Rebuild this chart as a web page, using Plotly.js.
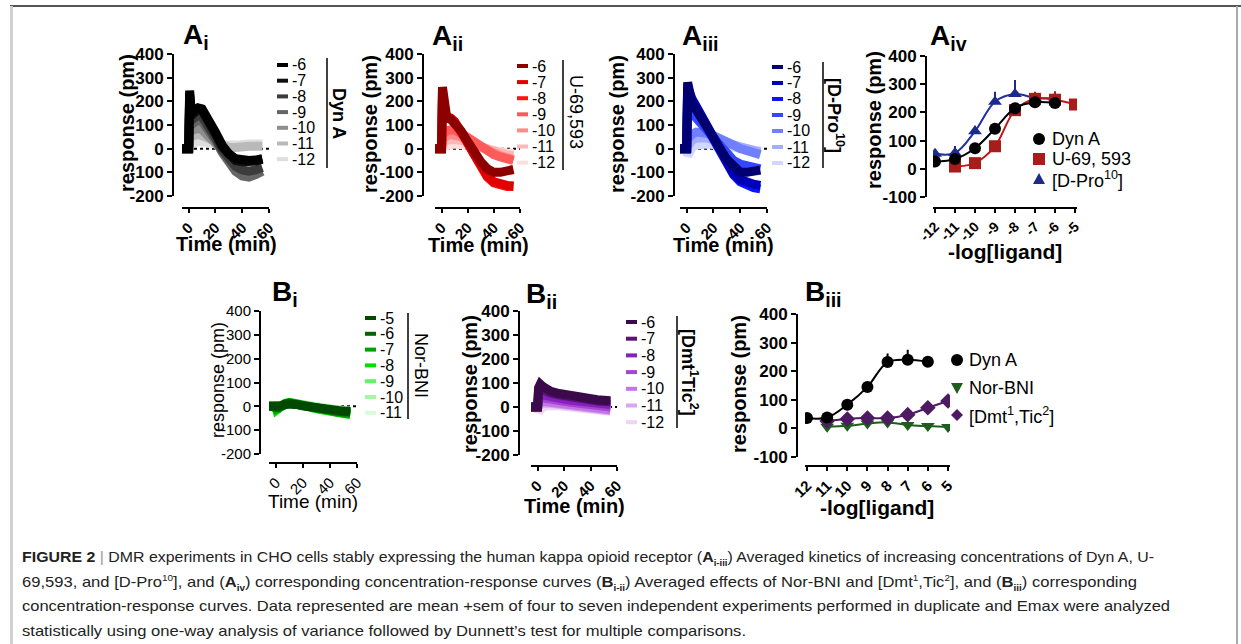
<!DOCTYPE html>
<html><head><meta charset="utf-8">
<script src="https://cdn.plot.ly/plotly-3.0.1.min.js"></script>
<style>
html,body{margin:0;padding:0;background:#fff;}
#wrap{position:relative;width:1241px;height:644px;overflow:hidden;background:#fff;}
#chart{position:absolute;left:0;top:0;width:1241px;height:644px;}
.fr{position:absolute;}
#cap{position:absolute;left:22px;top:545px;font-family:"Liberation Sans",Arial,sans-serif;font-size:15px;color:#222;}
.ln{white-space:nowrap;transform-origin:0 50%;height:24.5px;line-height:24.5px;display:block;width:max-content;}
.ln sup,.ln sub{font-size:9px;line-height:0;}
.bar{color:#999;}
</style></head>
<body><div id="wrap">
<div id="chart"></div>
<div class="fr" style="left:10px;top:5px;width:1231px;height:2px;background:#555;"></div>
<div class="fr" style="left:10px;top:6px;width:3px;height:640px;background:#d0d0d0;"></div>
<div class="fr" style="left:1236px;top:6px;width:2px;height:640px;background:#aaa;"></div>
<div id="cap">
<div class="ln" data-w="1132"><b>FIGURE 2</b> <span class="bar">|</span> DMR experiments in CHO cells stably expressing the human kappa opioid receptor (<b>A<sub>i-iii</sub></b>) Averaged kinetics of increasing concentrations of Dyn A, U-</div>
<div class="ln" data-w="1115">69,593, and [D-Pro<sup>10</sup>], and (<b>A<sub>iv</sub></b>) corresponding concentration-response curves (<b>B<sub>i-ii</sub></b>) Averaged effects of Nor-BNI and [Dmt<sup>1</sup>,Tic<sup>2</sup>], and (<b>B<sub>iii</sub></b>) corresponding</div>
<div class="ln" data-w="1148">concentration-response curves. Data represented are mean +sem of four to seven independent experiments performed in duplicate and Emax were analyzed</div>
<div class="ln" data-w="724">statistically using one-way analysis of variance followed by Dunnett’s test for multiple comparisons.</div>
</div>
</div>
<script>
// ---------------- DATA ----------------
const TIME = [-5, -1, 0, 0.7, 2, 4, 7, 10, 15, 20, 25, 30, 35, 40, 45, 50, 55];
const KIN_TICKS = [0, 20, 40, 60];

// Ai : Dyn A kinetics (log M)
const DYNA_LOGS = ['-6', '-7', '-8', '-9', '-10', '-11', '-12'];
const dynA_6  = [0, 0, 0, 245, 150, 160, 172, 168, 125, 70, 15, -22, -42, -50, -50, -48, -42];
const dynA_7  = [0, 0, 0, 230, 140, 150, 165, 160, 118, 62, 8, -28, -50, -55, -55, -52, -45];
const dynA_8  = [0, 0, 0, 200, 120, 130, 140, 135, 95, 45, -5, -45, -75, -90, -95, -90, -80];
const dynA_9  = [0, 0, 0, 170, 100, 110, 120, 115, 80, 35, -15, -60, -95, -115, -120, -110, -95];
const dynA_10 = [0, 0, 0, 120, 75, 80, 85, 80, 55, 25, -5, -35, -50, -55, -55, -50, -45];
const dynA_11 = [0, 0, 0, 80, 50, 55, 60, 55, 40, 25, 10, 5, 5, 10, 10, 10, 10];
const dynA_12 = [0, 0, 0, 45, 30, 25, 30, 30, 25, 20, 15, 15, 15, 20, 20, 20, 20];

// Aii : U-69,593 kinetics
const U69_LOGS = ['-6', '-7', '-8', '-9', '-10', '-11', '-12'];
const u69_6  = [0, 0, 0, 260, 160, 130, 125, 110, 75, 30, -15, -55, -85, -100, -100, -95, -88];
const u69_7  = [0, 0, 0, 230, 150, 135, 130, 115, 75, 25, -25, -75, -115, -140, -150, -155, -158];
const u69_8  = [0, 0, 0, 210, 145, 130, 125, 110, 70, 20, -30, -80, -120, -145, -155, -160, -160];
const u69_9  = [0, 0, 0, 60, 70, 75, 80, 78, 65, 45, 25, 5, -10, -25, -35, -45, -50];
const u69_10 = [0, 0, 0, 40, 50, 55, 60, 58, 50, 35, 20, 5, -8, -20, -30, -38, -45];
const u69_11 = [0, 0, 0, 20, 30, 35, 40, 40, 35, 25, 15, 5, -5, -12, -20, -25, -30];
const u69_12 = [0, 0, 0, 5, 10, 15, 20, 20, 18, 12, 8, 0, -5, -10, -15, -18, -20];

// Aiii : [D-Pro10] kinetics
const DPRO_LOGS = ['-6', '-7', '-8', '-9', '-10', '-11', '-12'];
const dpro_6  = [0, 0, 0, 280, 210, 190, 165, 140, 95, 45, 0, -45, -80, -100, -100, -95, -90];
const dpro_7  = [0, 0, 0, 260, 230, 210, 180, 150, 100, 45, -10, -60, -105, -130, -145, -150, -155];
const dpro_8  = [0, 0, 0, 250, 220, 200, 170, 145, 95, 40, -15, -65, -110, -140, -155, -165, -170];
const dpro_9  = [0, 0, 0, 200, 160, 150, 130, 110, 75, 40, 5, -25, -50, -65, -75, -80, -85];
const dpro_10 = [0, 0, 0, 40, 50, 60, 70, 70, 65, 55, 45, 30, 15, 0, -10, -20, -25];
const dpro_11 = [0, 0, 0, 10, 25, 35, 45, 48, 45, 38, 30, 20, 10, 0, -5, -10, -15];
const dpro_12 = [0, 0, 0, -30, -10, 5, 15, 20, 20, 18, 15, 10, 5, 0, -5, -8, -10];

// Bi : Nor-BNI kinetics
const NOR_LOGS = ['-5', '-6', '-7', '-8', '-9', '-10', '-11'];
const nor_5  = [0, 0, 0, -5, -3, 3, 10, 12, 8, 2, -3, -8, -12, -15, -18, -20, -22];
const nor_6  = [0, 0, 0, -8, -5, 2, 10, 13, 8, 2, -4, -9, -13, -17, -20, -23, -25];
const nor_7  = [0, 0, 0, -10, -5, 3, 12, 15, 10, 3, -4, -10, -15, -20, -24, -28, -32];
const nor_8  = [0, 0, 0, -15, -8, 2, 12, 16, 12, 4, -3, -10, -16, -22, -27, -32, -35];
const nor_9  = [0, 0, 0, -18, -8, 3, 13, 17, 12, 5, -2, -8, -14, -20, -24, -28, -30];
const nor_10 = [0, 0, 0, -10, -5, 2, 10, 14, 10, 5, 0, -5, -10, -14, -18, -20, -22];
const nor_11 = [0, 0, 0, -8, -3, 3, 10, 12, 10, 5, 0, -4, -8, -12, -15, -18, -20];

// Bii : [Dmt1,Tic2] kinetics
const DMT_LOGS = ['-6', '-7', '-8', '-9', '-10', '-11', '-12'];
const dmt_6  = [0, 0, 0, 80, 95, 85, 70, 65, 58, 52, 46, 40, 35, 32, 30, 28, 26];
const dmt_7  = [0, 0, 0, 65, 80, 72, 62, 58, 52, 46, 40, 35, 30, 27, 25, 23, 22];
const dmt_8  = [0, 0, 0, 45, 55, 50, 45, 42, 38, 33, 28, 24, 20, 17, 14, 12, 10];
const dmt_9  = [0, 0, 0, 30, 40, 38, 34, 32, 28, 24, 20, 16, 12, 8, 5, 2, 0];
const dmt_10 = [0, 0, 0, 15, 25, 25, 22, 20, 17, 13, 9, 5, 1, -3, -6, -9, -12];
const dmt_11 = [0, 0, 0, 0, 15, 18, 17, 15, 12, 8, 4, 0, -4, -8, -11, -14, -16];
const dmt_12 = [0, 0, 0, -20, -10, 0, 5, 8, 6, 3, 0, -3, -7, -10, -13, -16, -18];

// Aiv : concentration-response (x = log[ligand])
const AIV_TICKS = [-12, -11, -10, -9, -8, -7, -6, -5];
const aiv_dynA_x = [-12, -11, -10, -9, -8, -7, -6];
const aiv_dynA_y = [26, 35, 73, 142, 215, 236, 233];
const aiv_dynA_e = [8, 10, 10, 12, 15, 15, 15];
const aiv_u69_x = [-11, -10, -9, -8, -7, -6, -5];
const aiv_u69_y = [8, 20, 80, 208, 248, 245, 228];
const aiv_u69_e = [5, 5, 10, 15, 25, 30, 8];
const aiv_dpro_x = [-12, -11, -10, -9, -8, -7, -6];
const aiv_dpro_y = [53, 56, 133, 238, 265, 252, 250];
const aiv_dpro_e = [15, 25, 20, 35, 50, 20, 20];

// Biii : concentration-response (x = -log[ligand])
const BIII_TICKS = [12, 11, 10, 9, 8, 7, 6, 5];
const biii_dynA_x = [12, 11, 10, 9, 8, 7, 6];
const biii_dynA_y = [36, 38, 83, 145, 232, 240, 233];
const biii_dynA_e = [8, 8, 10, 15, 30, 35, 15];
const biii_nor_x = [11, 10, 9, 8, 7, 6, 5];
const biii_nor_y = [6, 9, 17, 21, 12, 8, 5];
const biii_nor_e = [3, 3, 3, 3, 3, 3, 3];
const biii_dmt_x = [11, 10, 9, 8, 7, 6, 5];
const biii_dmt_y = [26, 33, 36, 36, 48, 72, 96];
const biii_dmt_e = [5, 5, 5, 5, 8, 8, 10];

// colours
const GREYS  = ['#000000', '#101010', '#3c3c3c', '#666666', '#8e8e8e', '#b9b9b9', '#dedede'];
const REDS   = ['#8c0000', '#e00000', '#ff1414', '#ff5a5a', '#ff8a8a', '#ffb8b8', '#ffdede'];
const BLUES  = ['#000070', '#0000b8', '#0a14ff', '#3347ff', '#6f7fff', '#a3adff', '#d2d7ff'];
const GREENS = ['#004a00', '#006400', '#00a000', '#00e000', '#66f266', '#a8f5a8', '#d8fbd8'];
const PURPS  = ['#3a0a4a', '#5a1278', '#8a1fc0', '#a545d2', '#c276e2', '#d9a6ee', '#eed4f7'];

// ---------------- BUILD ----------------
const F = 'Liberation Sans, Arial, sans-serif';
const W = 1241, H = 644;
const X = v => v / W, Y = v => 1 - v / H;
const traces = [], shapes = [], ann = [];

function kinetic(n, series, colors) {
  const xa = 'x' + n, ya = 'y' + n;
  traces.push({x: [-5, 60], y: [0, 0], xaxis: xa, yaxis: ya, mode: 'lines',
    line: {color: '#000', width: 2, dash: 'dot'}, hoverinfo: 'skip', showlegend: false});
  for (let i = series.length - 1; i >= 0; i--) {
    traces.push({x: TIME, y: series[i], xaxis: xa, yaxis: ya, mode: 'lines',
      line: {color: colors[i], width: 9}, showlegend: false});
  }
}
kinetic(1, [dynA_6, dynA_7, dynA_8, dynA_9, dynA_10, dynA_11, dynA_12], GREYS);
kinetic(2, [u69_6, u69_7, u69_8, u69_9, u69_10, u69_11, u69_12], REDS);
kinetic(3, [dpro_6, dpro_7, dpro_8, dpro_9, dpro_10, dpro_11, dpro_12], BLUES);
kinetic(5, [nor_5, nor_6, nor_7, nor_8, nor_9, nor_10, nor_11], GREENS);
kinetic(6, [dmt_6, dmt_7, dmt_8, dmt_9, dmt_10, dmt_11, dmt_12], PURPS);

function crc(n, xs, ys, es, mcol, lcol, sym) {
  const xa = 'x' + n, ya = 'y' + n;
  traces.push({x: xs, y: ys, xaxis: xa, yaxis: ya, mode: 'lines',
    line: {color: lcol, width: 2, shape: 'spline', smoothing: 1}, showlegend: false});
  traces.push({x: xs, y: ys, xaxis: xa, yaxis: ya, mode: 'markers',
    marker: {symbol: sym, size: 12, color: mcol},
    error_y: {type: 'data', symmetric: false, array: es, arrayminus: es.map(() => 0),
      color: mcol, thickness: 2, width: 0}, showlegend: false});
}
crc(4, aiv_dpro_x, aiv_dpro_y, aiv_dpro_e, '#1c2a8c', '#1f2fa0', 'triangle-up');
crc(4, aiv_u69_x, aiv_u69_y, aiv_u69_e, '#a81c1c', '#c01818', 'square');
crc(4, aiv_dynA_x, aiv_dynA_y, aiv_dynA_e, '#000', '#000', 'circle');
crc(7, biii_nor_x, biii_nor_y, biii_nor_e, '#1d5e1d', '#1d5e1d', 'triangle-down');
crc(7, biii_dmt_x, biii_dmt_y, biii_dmt_e, '#4e1a63', '#4e1a63', 'diamond');
crc(7, biii_dynA_x, biii_dynA_y, biii_dynA_e, '#000', '#000', 'circle');

// axes helpers (geometry in px of the 1241x644 canvas)
function yax(top, bot, lo, hi, xpos, bold, fs) {
  const vals = []; for (let v = lo; v <= hi; v += 100) vals.push(v);
  return {domain: [Y(bot), Y(top)], range: [lo, hi], anchor: 'free', position: X(xpos),
    showline: true, linewidth: 2, linecolor: '#000', ticks: 'outside', ticklen: 5, tickwidth: 2,
    tickcolor: '#000', tickvals: vals, ticktext: vals.map(String), showgrid: false, zeroline: false,
    tickfont: {family: F, size: fs, weight: bold ? 'bold' : 'normal', color: '#000'}, fixedrange: true};
}
function xax(left, right, range, ypos, vals, bold, fs) {
  return {domain: [X(left), X(right)], range: range, anchor: 'free', position: Y(ypos),
    showline: true, linewidth: 2, linecolor: '#000', ticks: 'outside', ticklen: 4, tickwidth: 2,
    tickcolor: '#000', tickvals: vals, ticktext: vals.map(String), tickangle: -45,
    showgrid: false, zeroline: false,
    tickfont: {family: F, size: fs, weight: bold ? 'bold' : 'normal', color: '#000'}, fixedrange: true};
}

const layout = {
  width: W, height: H, margin: {l: 0, r: 0, t: 0, b: 0},
  paper_bgcolor: 'rgba(0,0,0,0)', plot_bgcolor: 'rgba(0,0,0,0)', showlegend: false,
  xaxis:  xax(182, 269, [-5, 60], 208, KIN_TICKS, true, 15),
  yaxis:  yax(54, 196, -200, 400, 173, true, 17),
  xaxis2: xax(435, 520, [-5, 60], 208, KIN_TICKS, true, 15),
  yaxis2: yax(54, 196, -200, 400, 423, true, 17),
  xaxis3: xax(680, 767, [-5, 60], 208, KIN_TICKS, true, 15),
  yaxis3: yax(54, 196, -200, 400, 674, true, 17),
  xaxis4: xax(933, 1077, [-12.1, -4.9], 208, AIV_TICKS, true, 14),
  yaxis4: yax(56, 197, -100, 400, 926, true, 17),
  xaxis5: xax(269, 357, [-5, 60], 463, KIN_TICKS, false, 15),
  yaxis5: yax(311, 454, -200, 400, 260, false, 15),
  xaxis6: xax(531, 617, [-5, 60], 466, KIN_TICKS, true, 15),
  yaxis6: yax(311, 455, -200, 400, 519, true, 17),
  xaxis7: xax(805, 950, [12.1, 4.9], 466, BIII_TICKS, true, 15),
  yaxis7: yax(314, 457, -100, 400, 797, true, 17),
  shapes: shapes, annotations: ann
};

function txt(text, x, y, size, bold, opts) {
  ann.push(Object.assign({text: text, x: X(x), y: Y(y), xref: 'paper', yref: 'paper',
    showarrow: false, xanchor: 'center', yanchor: 'middle',
    font: {family: F, size: size, color: '#000', weight: bold ? 'bold' : 'normal'}}, opts || {}));
}
// panel titles
[['A<sub>i</sub>', 181, 37], ['A<sub>ii</sub>', 430, 38], ['A<sub>iii</sub>', 680, 38], ['A<sub>iv</sub>', 928, 38],
 ['B<sub>i</sub>', 270, 293], ['B<sub>ii</sub>', 524, 295], ['B<sub>iii</sub>', 803, 293]]
  .forEach(p => txt(p[0], p[1], p[2], 28, true, {xanchor: 'left'}));
// axis titles
[[127, 123, true, 20], [370, 124, true, 20], [617, 124, true, 20], [874, 120, true, 20],
 [218, 380, false, 18], [470, 384, true, 20], [739, 384, true, 20]]
  .forEach(p => txt('response (pm)', p[0], p[1], p[3], p[2], {textangle: -90}));
[[226, 244, true, 20], [478, 245, true, 20], [723, 245, true, 20], [313, 501, false, 19], [574, 506, true, 20]]
  .forEach(p => txt('Time (min)', p[0], p[1], p[3], p[2]));
txt('-log[ligand]', 1005, 251, 21, true);
txt('-log[ligand]', 877, 507, 21, true);

// kinetic legends
function kleg(labels, colors, dx0, ty, step, vx, vy0, vy1, title, tx, tyc, tbold) {
  labels.forEach((l, i) => {
    const y = ty + i * step;
    shapes.push({type: 'line', xref: 'paper', yref: 'paper', x0: X(dx0), x1: X(dx0 + 11), y0: Y(y), y1: Y(y),
      line: {color: colors[i], width: 4}});
    txt(l, dx0 + 13, y, 16, false, {xanchor: 'left'});
  });
  shapes.push({type: 'line', xref: 'paper', yref: 'paper', x0: X(vx), x1: X(vx), y0: Y(vy0), y1: Y(vy1),
    line: {color: '#000', width: 1.5}});
  txt(title, tx, tyc, 18, tbold, {textangle: 90});
}
kleg(DYNA_LOGS, GREYS, 277, 65, 15.7, 327, 58, 168, 'Dyn A', 339, 113, true);
kleg(U69_LOGS, REDS, 517, 66, 16.1, 563, 60, 170, 'U-69,593', 576, 112, false);
kleg(DPRO_LOGS, BLUES, 772, 67, 16, 823, 62, 168, '[D-Pro<sup>10</sup>]', 836, 115, true);
kleg(NOR_LOGS, GREENS, 365, 318, 15.8, 408, 313, 419, 'Nor-BNI', 421, 365, false);
kleg(DMT_LOGS, PURPS, 626, 322, 16.7, 677, 316, 428, '[Dmt<sup>1</sup>Tic<sup>2</sup>]', 690, 372, true);

// marker legends
const P = (x, y) => X(x) + ',' + Y(y);
function mk(sym, cx, cy, col) {
  const r = 6;
  if (sym === 'circle') shapes.push({type: 'circle', xref: 'paper', yref: 'paper', x0: X(cx - r), x1: X(cx + r), y0: Y(cy + r), y1: Y(cy - r), fillcolor: col, line: {width: 0}});
  if (sym === 'square') shapes.push({type: 'rect', xref: 'paper', yref: 'paper', x0: X(cx - r), x1: X(cx + r), y0: Y(cy + r), y1: Y(cy - r), fillcolor: col, line: {width: 0}});
  let path = null;
  if (sym === 'up') path = 'M' + P(cx, cy - r) + ' L' + P(cx + r, cy + r - 1) + ' L' + P(cx - r, cy + r - 1) + ' Z';
  if (sym === 'down') path = 'M' + P(cx, cy + r) + ' L' + P(cx + r, cy - r + 1) + ' L' + P(cx - r, cy - r + 1) + ' Z';
  if (sym === 'diamond') path = 'M' + P(cx, cy - r) + ' L' + P(cx + r, cy) + ' L' + P(cx, cy + r) + ' L' + P(cx - r, cy) + ' Z';
  if (path) shapes.push({type: 'path', xref: 'paper', yref: 'paper', path: path, fillcolor: col, line: {width: 0}});
}
mk('circle', 1039, 139, '#000'); txt('Dyn A', 1050, 139, 18, false, {xanchor: 'left'});
mk('square', 1039, 159, '#a81c1c'); txt('U-69, 593', 1050, 159, 18, false, {xanchor: 'left'});
mk('up', 1039, 179, '#1c2a8c'); txt('[D-Pro<sup>10</sup>]', 1050, 179, 18, false, {xanchor: 'left'});
mk('circle', 957, 360, '#000'); txt('Dyn A', 967, 360, 18, false, {xanchor: 'left'});
mk('down', 957, 388, '#1d5e1d'); txt('Nor-BNI', 967, 388, 18, false, {xanchor: 'left'});
mk('diamond', 957, 415, '#4e1a63'); txt('[Dmt<sup>1</sup>,Tic<sup>2</sup>]', 967, 415, 18, false, {xanchor: 'left'});

Plotly.newPlot('chart', traces, layout, {staticPlot: true, displayModeBar: false});

// caption line fitting
document.querySelectorAll('#cap .ln').forEach(el => {
  const w = el.getBoundingClientRect().width;
  const t = +el.dataset.w;
  el.style.transform = 'scaleX(' + (t / w) + ')';
});
</script>
</body></html>
